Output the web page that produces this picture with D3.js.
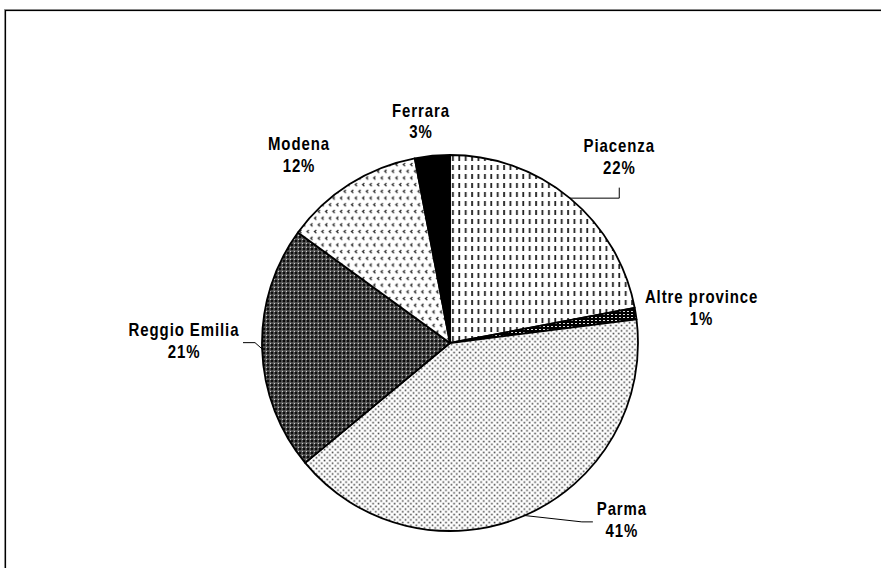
<!DOCTYPE html>
<html>
<head>
<meta charset="utf-8">
<script src="https://cdn.jsdelivr.net/npm/d3@7"></script>
<style>
  body { margin: 0; background: #fff; }
  svg { display: block; }
  .lbl { font-family: "Liberation Sans", Arial, sans-serif; font-weight: bold; font-size: 15px; letter-spacing: 0.9px; fill: #000; }
</style>
</head>
<body>
<svg id="chart" width="881" height="568"></svg>
<script>
// ---------- data ----------
var provinces = ["Piacenza", "Altre province", "Parma", "Reggio Emilia", "Modena", "Ferrara"];
var shares = [22, 1, 41, 21, 12, 3];
var shareLabels = ["22%", "1%", "41%", "21%", "12%", "3%"];

// ---------- layout ----------
var W = 881, H = 568;
var cx = 450, cy = 343, R = 188;
// label centre as [angle in degrees clockwise from top, distance from centre]
var labelPolar = {
  "Piacenza": [42.4, 251],
  "Altre province": [82.1, 254],
  "Parma": [135.9, 247],
  "Reggio Emilia": [270.4, 266],
  "Modena": [321.2, 241],
  "Ferrara": [352.5, 223]
};
var fills = {
  "Piacenza": "url(#pDash)",
  "Altre province": "url(#pBrick)",
  "Parma": "url(#pDots)",
  "Reggio Emilia": "url(#pCross)",
  "Modena": "url(#pChev)",
  "Ferrara": "#000"
};

var svg = d3.select("#chart");

// ---------- patterns ----------
var defs = svg.append("defs");

var p1 = defs.append("pattern").attr("id", "pDash").attr("patternUnits", "userSpaceOnUse")
  .attr("width", 6.4).attr("height", 9);
p1.append("rect").attr("width", 6.4).attr("height", 9).attr("fill", "#fff");
p1.append("rect").attr("x", 2).attr("y", 2).attr("width", 1.8).attr("height", 5).attr("fill", "#222");

var p2 = defs.append("pattern").attr("id", "pBrick").attr("patternUnits", "userSpaceOnUse")
  .attr("width", 4).attr("height", 3);
p2.append("rect").attr("width", 4).attr("height", 3).attr("fill", "#000");
p2.append("rect").attr("x", 1).attr("y", 1).attr("width", 2).attr("height", 1).attr("fill", "#ddd");

var p3 = defs.append("pattern").attr("id", "pDots").attr("patternUnits", "userSpaceOnUse")
  .attr("width", 5.4).attr("height", 5.4);
p3.append("rect").attr("width", 5.4).attr("height", 5.4).attr("fill", "#fff");
p3.append("rect").attr("x", 0.6).attr("y", 0.6).attr("width", 1.6).attr("height", 1.6).attr("fill", "#444");
p3.append("rect").attr("x", 3.3).attr("y", 3.3).attr("width", 1.6).attr("height", 1.6).attr("fill", "#444");

var p4 = defs.append("pattern").attr("id", "pCross").attr("patternUnits", "userSpaceOnUse")
  .attr("width", 4).attr("height", 4);
p4.append("rect").attr("width", 4).attr("height", 4).attr("fill", "#5e5e5e");
p4.append("path").attr("d", "M2,0.3 L3.7,2 L2,3.7 L0.3,2 Z").attr("fill", "#0a0a0a");
p4.append("rect").attr("x", 0).attr("y", 0).attr("width", 0.9).attr("height", 0.9).attr("fill", "#eee");

var p5 = defs.append("pattern").attr("id", "pChev").attr("patternUnits", "userSpaceOnUse")
  .attr("width", 7.4).attr("height", 13.4);
p5.append("rect").attr("width", 7.4).attr("height", 13.4).attr("fill", "#fff");
p5.append("path").attr("d", "M3.2,1 L1.4,2.5 L3.2,4").attr("fill", "none").attr("stroke", "#333").attr("stroke-width", 1.3);
p5.append("path").attr("d", "M6.9,7.7 L5.1,9.2 L6.9,10.7").attr("fill", "none").attr("stroke", "#333").attr("stroke-width", 1.3);

// ---------- frame ----------
svg.append("rect").attr("x", 4.5).attr("y", 9.5).attr("width", W + 20).attr("height", H + 20)
  .attr("fill", "none").attr("stroke", "#999").attr("stroke-width", 1);
svg.append("rect").attr("x", 5.5).attr("y", 10.5).attr("width", W + 20).attr("height", H + 20)
  .attr("fill", "none").attr("stroke", "#000").attr("stroke-width", 1.2);

// ---------- pie ----------
var pie = d3.pie().sort(null).value(function (d) { return d.value; });
var arc = d3.arc().innerRadius(0).outerRadius(R);

var rows = provinces.map(function (p, i) {
  return { name: p, value: shares[i], label: shareLabels[i] };
});
var arcs = pie(rows);

var g = svg.append("g").attr("transform", "translate(" + cx + "," + cy + ")");

g.selectAll("path.slice")
  .data(arcs)
  .enter()
  .append("path")
  .attr("class", "slice")
  .attr("d", arc)
  .attr("fill", function (d) { return fills[d.data.name]; })
  .attr("stroke", "#000")
  .attr("stroke-width", 1.8)
  .attr("stroke-linejoin", "round");

var polar = function (angle, r) {
  return [r * Math.sin(angle), -r * Math.cos(angle)];
};

// ---------- leader lines ----------
var leaderFor = {
  "Piacenza": function (lp, edge) { return [edge, [lp[0], edge[1]], [lp[0], lp[1] + 30]]; },
  "Reggio Emilia": function (lp, edge) { return [edge, [lp[0] + 71, lp[1] + 1.5], [lp[0] + 59, lp[1] + 1.5]]; },
  "Parma": function (lp, edge) { return [edge, [lp[0] - 40, lp[1] + 1.5], [lp[0] - 29, lp[1] + 1.5]]; }
};

arcs.forEach(function (d) {
  var lp = labelPolar[d.data.name];
  var pos = polar(lp[0] * Math.PI / 180, lp[1]);
  var mid = (d.startAngle + d.endAngle) / 2;

  if (leaderFor[d.data.name]) {
    var pts = leaderFor[d.data.name](pos, polar(mid, R));
    g.append("path")
      .attr("d", d3.line()(pts))
      .attr("fill", "none")
      .attr("stroke", "#000")
      .attr("stroke-width", 1);
  }

  var t = g.append("g")
    .attr("transform", "translate(" + pos[0] + "," + pos[1] + ") scale(1,1.18)")
    .append("text")
    .attr("class", "lbl")
    .attr("text-anchor", "middle");
  t.append("tspan").attr("x", 0).attr("y", 0).attr("dy", "-0.3em").text(d.data.name);
  t.append("tspan").attr("x", 0).attr("dy", "1.23em").text(d.data.label);
});
</script>
</body>
</html>
